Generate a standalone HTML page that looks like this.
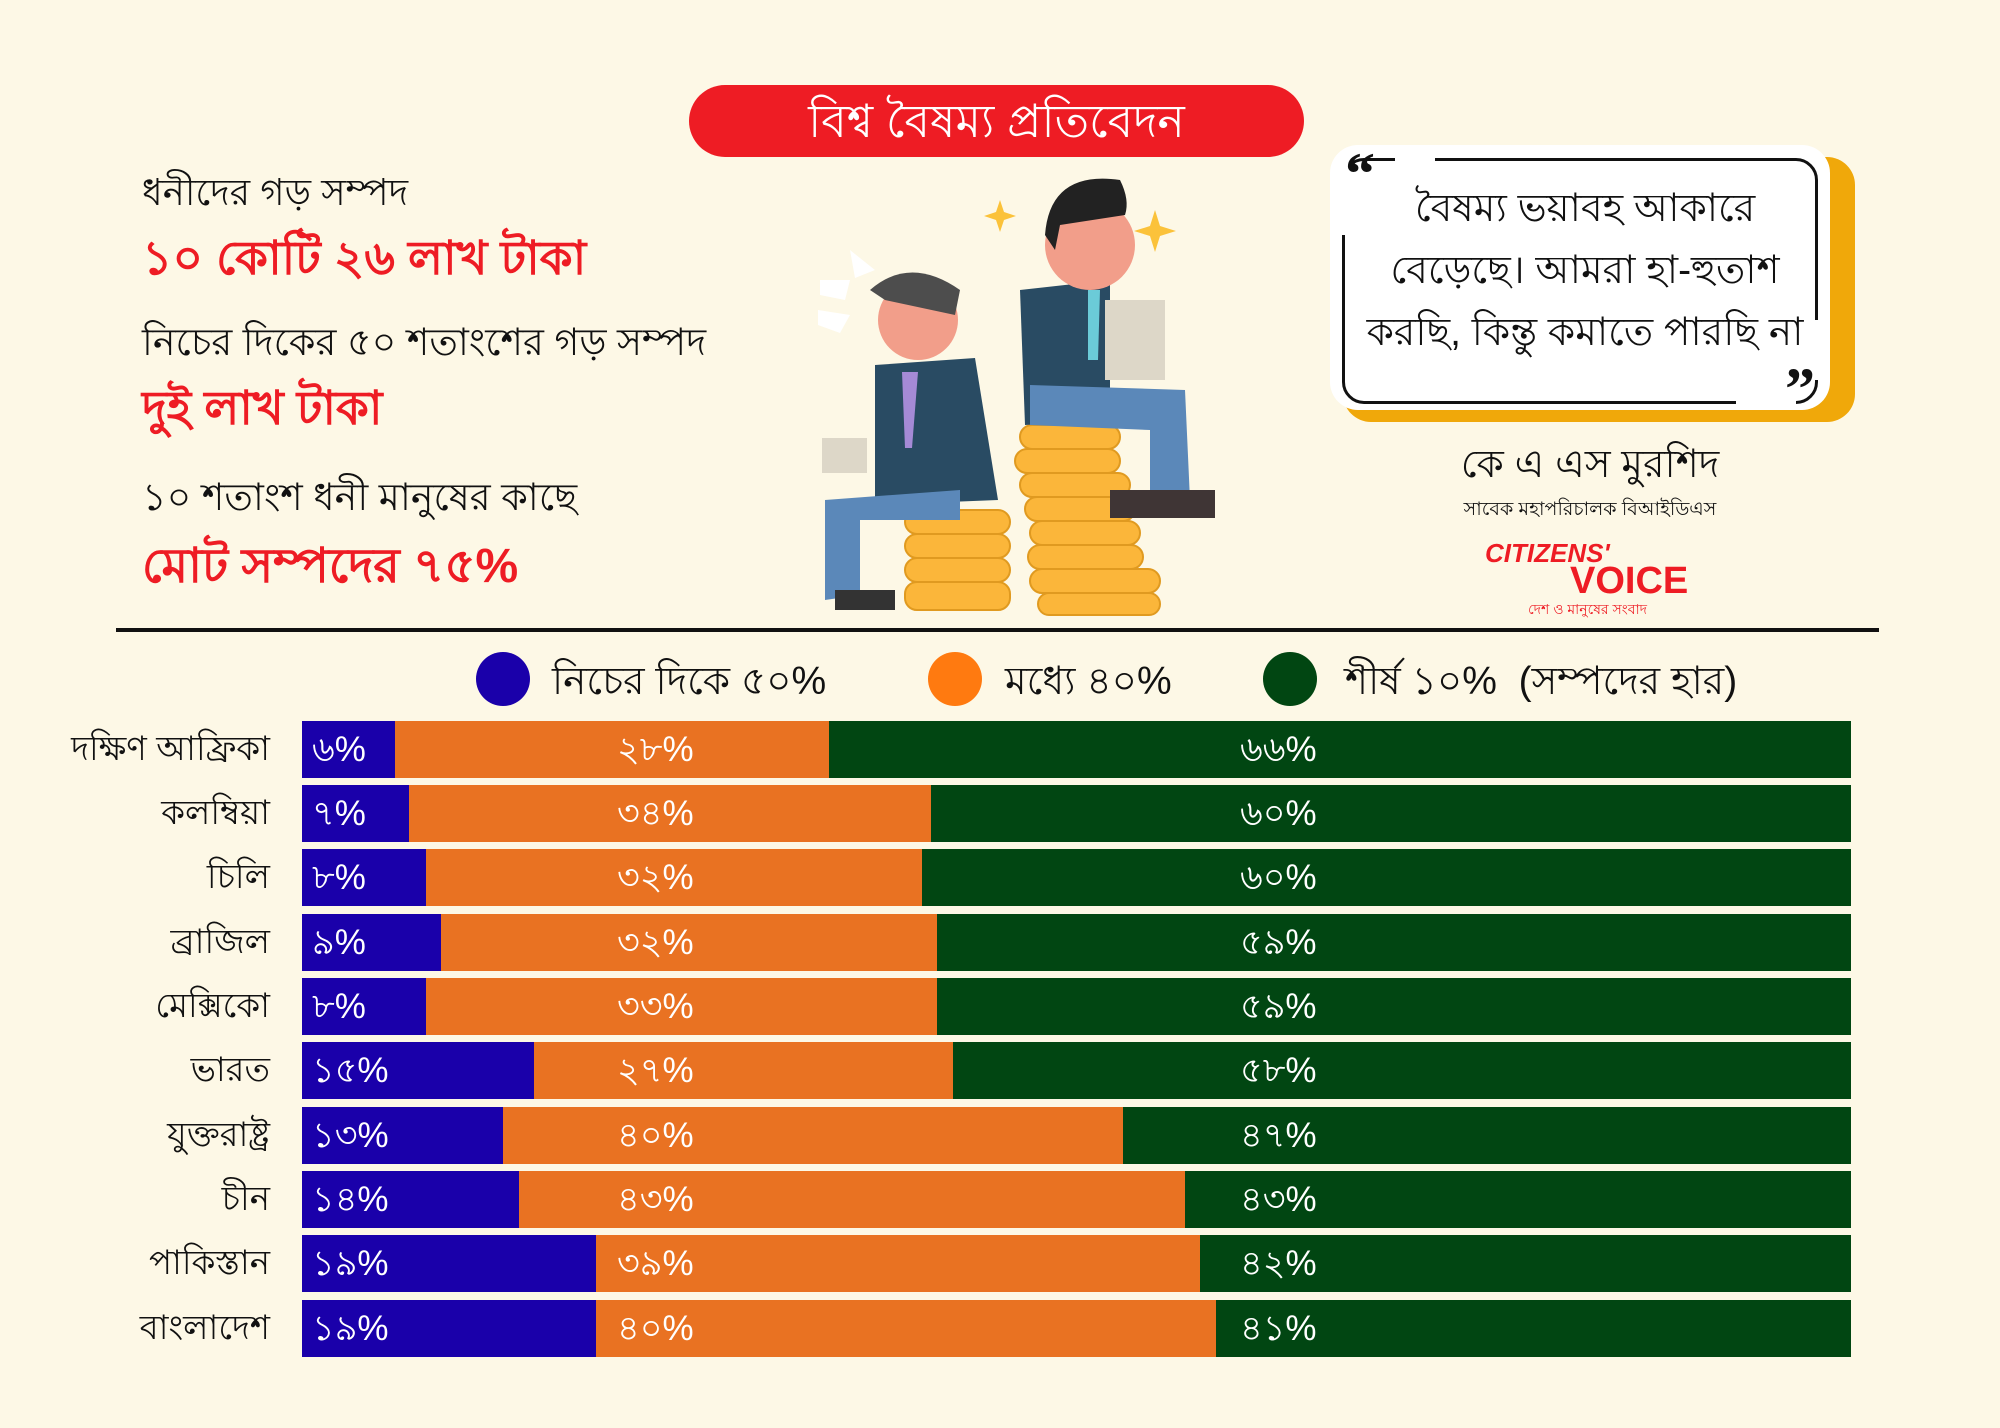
<!DOCTYPE html>
<html><head><meta charset="utf-8"><style>
body{margin:0;}
#c{position:relative;width:2000px;height:1428px;background:#fdf8e6;overflow:hidden;font-family:"Liberation Sans","Noto Sans CJK SC",sans-serif;color:#111;}
.a{position:absolute;white-space:nowrap;}
.red{color:#ee1c24;font-weight:bold;}
.row{position:absolute;left:302px;width:1549px;height:57px;display:flex;}
.row div{height:100%;}
.b{background:#1a00aa}.o{background:#e97222}.g{background:#014612}
.lab{position:absolute;color:#fff;font-size:35px;line-height:57px;}
.cn{position:absolute;right:1730px;font-size:34px;line-height:57px;text-align:right;}
</style></head><body><div id="c">
<div class="a" style="left:689px;top:85px;width:615px;height:72px;background:#ee1c24;border-radius:36px;color:#fff;font-size:46px;line-height:72px;text-align:center;">বিশ্ব বৈষম্য প্রতিবেদন</div>

<div class="a" style="left:142px;top:163px;font-size:37px;">ধনীদের গড় সম্পদ</div>
<div class="a red" style="left:142px;top:222px;font-size:47px;">১০ কোটি ২৬ লাখ টাকা</div>
<div class="a" style="left:142px;top:313px;font-size:38px;">নিচের দিকের ৫০ শতাংশের গড় সম্পদ</div>
<div class="a red" style="left:142px;top:372px;font-size:47px;">দুই লাখ টাকা</div>
<div class="a" style="left:142px;top:468px;font-size:38px;">১০ শতাংশ ধনী মানুষের কাছে</div>
<div class="a red" style="left:142px;top:530px;font-size:48px;">মোট সম্পদের ৭৫%</div>

<svg class="a" style="left:780px;top:160px" width="460" height="460" viewBox="780 160 460 460">
 <g fill="#fbb63a" stroke="#e09a20" stroke-width="2">
  <rect x="905" y="510" width="105" height="24" rx="12"/><rect x="905" y="534" width="105" height="24" rx="12"/><rect x="905" y="558" width="105" height="24" rx="12"/><rect x="905" y="582" width="105" height="28" rx="12"/>
  <rect x="1020" y="425" width="100" height="24" rx="12"/><rect x="1015" y="449" width="105" height="24" rx="12"/><rect x="1020" y="473" width="110" height="24" rx="12"/><rect x="1025" y="497" width="110" height="24" rx="12"/><rect x="1030" y="521" width="110" height="24" rx="12"/><rect x="1028" y="545" width="115" height="24" rx="12"/><rect x="1030" y="569" width="130" height="24" rx="12"/><rect x="1038" y="593" width="122" height="22" rx="11"/>
 </g>
 <path d="M875 365 L975 358 L998 500 L875 505 Z" fill="#294b63"/>
 <path d="M825 500 L960 490 L960 520 L860 520 L860 595 L825 600 Z" fill="#5b88b9"/>
 <rect x="835" y="590" width="60" height="20" fill="#333"/>
 <path d="M902 372 L918 372 L912 448 L905 448 Z" fill="#a58ad6"/>
 <circle cx="918" cy="320" r="40" fill="#f29e8a"/>
 <path d="M870 290 Q910 255 960 290 L955 315 L885 300 Z" fill="#4d4d4d"/>
 <rect x="822" y="438" width="45" height="35" fill="#ddd7c8"/>
 <path d="M1020 290 L1110 280 L1110 420 L1025 425 Z" fill="#294b63"/>
 <path d="M1030 385 L1185 390 L1190 500 L1150 500 L1150 430 L1030 425 Z" fill="#5b88b9"/>
 <rect x="1110" y="490" width="105" height="28" fill="#3f3535"/>
 <path d="M1088 290 L1100 290 L1098 360 L1088 360 Z" fill="#6bcbd8"/>
 <rect x="1105" y="300" width="60" height="80" fill="#ddd7c8"/>
 <circle cx="1090" cy="245" r="45" fill="#f29e8a"/>
 <path d="M1045 235 Q1050 170 1120 180 Q1130 200 1125 215 L1060 225 L1055 250 Z" fill="#222"/>
 <path d="M1000 200 l4 12 12 4 -12 4 -4 12 -4 -12 -12 -4 12 -4z M1155 210 l5 16 16 5 -16 5 -5 16 -5 -16 -16 -5 16 -5z" fill="#fbc23a"/>
 <path d="M850 250 l25 20 -20 8z M820 280 l30 0 -5 20 -25 -5z M818 310 l32 5 -10 18 -22 -8z" fill="#fff"/>
</svg>

<div class="a" style="left:1343px;top:157px;width:512px;height:265px;background:#f0a80a;border-radius:28px;"></div>
<div class="a" style="left:1330px;top:145px;width:500px;height:265px;background:#fff;border-radius:28px;"></div>
<div class="a" style="left:1342px;top:158px;width:470px;height:240px;border:3px solid #111;border-radius:22px;"></div>
<div class="a" style="left:1395px;top:150px;width:40px;height:20px;background:#fff;"></div>
<div class="a" style="left:1336px;top:165px;width:20px;height:70px;background:#fff;"></div>
<div class="a" style="left:1736px;top:395px;width:60px;height:12px;background:#fff;"></div>
<div class="a" style="left:1800px;top:320px;width:20px;height:60px;background:#fff;"></div>
<div class="a" style="left:1345px;top:140px;font-size:60px;font-weight:bold;font-family:'Liberation Serif',serif;">“</div>
<div class="a" style="left:1785px;top:355px;font-size:60px;font-weight:bold;font-family:'Liberation Serif',serif;">”</div>
<div class="a" style="left:1345px;top:178px;width:480px;text-align:center;font-size:39px;line-height:62px;white-space:normal;">বৈষম্য ভয়াবহ আকারে<br>বেড়েছে। আমরা হা-হুতাশ<br>করছি, কিন্তু কমাতে পারছি না</div>
<div class="a" style="left:1330px;top:434px;width:520px;text-align:center;font-size:39px;">কে এ এস মুরশিদ</div>
<div class="a" style="left:1330px;top:495px;width:520px;text-align:center;font-size:19px;">সাবেক মহাপরিচালক বিআইডিএস</div>
<div class="a" style="left:1485px;top:538px;color:#ee1c24;font-size:26px;font-style:italic;font-weight:bold;">CITIZENS'</div>
<div class="a" style="left:1570px;top:560px;color:#ee1c24;font-size:38px;font-weight:900;">VOICE</div>
<div class="a" style="left:1528px;top:598px;color:#ee1c24;font-size:14px;">দেশ ও মানুষের সংবাদ</div>

<div class="a" style="left:116px;top:628px;width:1763px;height:4px;background:#111;"></div>

<div class="a" style="left:476px;top:652px;width:54px;height:54px;border-radius:50%;background:#1a00aa;"></div>
<div class="a" style="left:552px;top:651px;font-size:39px;">নিচের দিকে ৫০%</div>
<div class="a" style="left:928px;top:652px;width:54px;height:54px;border-radius:50%;background:#ff7a10;"></div>
<div class="a" style="left:1005px;top:651px;font-size:39px;">মধ্যে ৪০%</div>
<div class="a" style="left:1263px;top:652px;width:54px;height:54px;border-radius:50%;background:#014612;"></div>
<div class="a" style="left:1345px;top:651px;font-size:39px;">শীর্ষ ১০% &nbsp;(সম্পদের হার)</div>

<div class="row" style="top:721px"><div class="b" style="flex:6"></div><div class="o" style="flex:28"></div><div class="g" style="flex:66"></div></div>
<div class="row" style="top:785px"><div class="b" style="flex:7"></div><div class="o" style="flex:34"></div><div class="g" style="flex:60"></div></div>
<div class="row" style="top:849px"><div class="b" style="flex:8"></div><div class="o" style="flex:32"></div><div class="g" style="flex:60"></div></div>
<div class="row" style="top:914px"><div class="b" style="flex:9"></div><div class="o" style="flex:32"></div><div class="g" style="flex:59"></div></div>
<div class="row" style="top:978px"><div class="b" style="flex:8"></div><div class="o" style="flex:33"></div><div class="g" style="flex:59"></div></div>
<div class="row" style="top:1042px"><div class="b" style="flex:15"></div><div class="o" style="flex:27"></div><div class="g" style="flex:58"></div></div>
<div class="row" style="top:1107px"><div class="b" style="flex:13"></div><div class="o" style="flex:40"></div><div class="g" style="flex:47"></div></div>
<div class="row" style="top:1171px"><div class="b" style="flex:14"></div><div class="o" style="flex:43"></div><div class="g" style="flex:43"></div></div>
<div class="row" style="top:1235px"><div class="b" style="flex:19"></div><div class="o" style="flex:39"></div><div class="g" style="flex:42"></div></div>
<div class="row" style="top:1300px"><div class="b" style="flex:19"></div><div class="o" style="flex:40"></div><div class="g" style="flex:41"></div></div>

<div class="cn" style="top:721px">দক্ষিণ আফ্রিকা</div>
<div class="cn" style="top:785px">কলম্বিয়া</div>
<div class="cn" style="top:849px">চিলি</div>
<div class="cn" style="top:914px">ব্রাজিল</div>
<div class="cn" style="top:978px">মেক্সিকো</div>
<div class="cn" style="top:1042px">ভারত</div>
<div class="cn" style="top:1107px">যুক্তরাষ্ট্র</div>
<div class="cn" style="top:1171px">চীন</div>
<div class="cn" style="top:1235px">পাকিস্তান</div>
<div class="cn" style="top:1300px">বাংলাদেশ</div>

<div class="lab" style="left:312px;top:721px">৬%</div><div class="lab" style="left:617px;top:721px">২৮%</div><div class="lab" style="left:1240px;top:721px">৬৬%</div>
<div class="lab" style="left:312px;top:785px">৭%</div><div class="lab" style="left:617px;top:785px">৩৪%</div><div class="lab" style="left:1240px;top:785px">৬০%</div>
<div class="lab" style="left:312px;top:849px">৮%</div><div class="lab" style="left:617px;top:849px">৩২%</div><div class="lab" style="left:1240px;top:849px">৬০%</div>
<div class="lab" style="left:312px;top:914px">৯%</div><div class="lab" style="left:617px;top:914px">৩২%</div><div class="lab" style="left:1240px;top:914px">৫৯%</div>
<div class="lab" style="left:312px;top:978px">৮%</div><div class="lab" style="left:617px;top:978px">৩৩%</div><div class="lab" style="left:1240px;top:978px">৫৯%</div>
<div class="lab" style="left:312px;top:1042px">১৫%</div><div class="lab" style="left:617px;top:1042px">২৭%</div><div class="lab" style="left:1240px;top:1042px">৫৮%</div>
<div class="lab" style="left:312px;top:1107px">১৩%</div><div class="lab" style="left:617px;top:1107px">৪০%</div><div class="lab" style="left:1240px;top:1107px">৪৭%</div>
<div class="lab" style="left:312px;top:1171px">১৪%</div><div class="lab" style="left:617px;top:1171px">৪৩%</div><div class="lab" style="left:1240px;top:1171px">৪৩%</div>
<div class="lab" style="left:312px;top:1235px">১৯%</div><div class="lab" style="left:617px;top:1235px">৩৯%</div><div class="lab" style="left:1240px;top:1235px">৪২%</div>
<div class="lab" style="left:312px;top:1300px">১৯%</div><div class="lab" style="left:617px;top:1300px">৪০%</div><div class="lab" style="left:1240px;top:1300px">৪১%</div>
</div></body></html>
